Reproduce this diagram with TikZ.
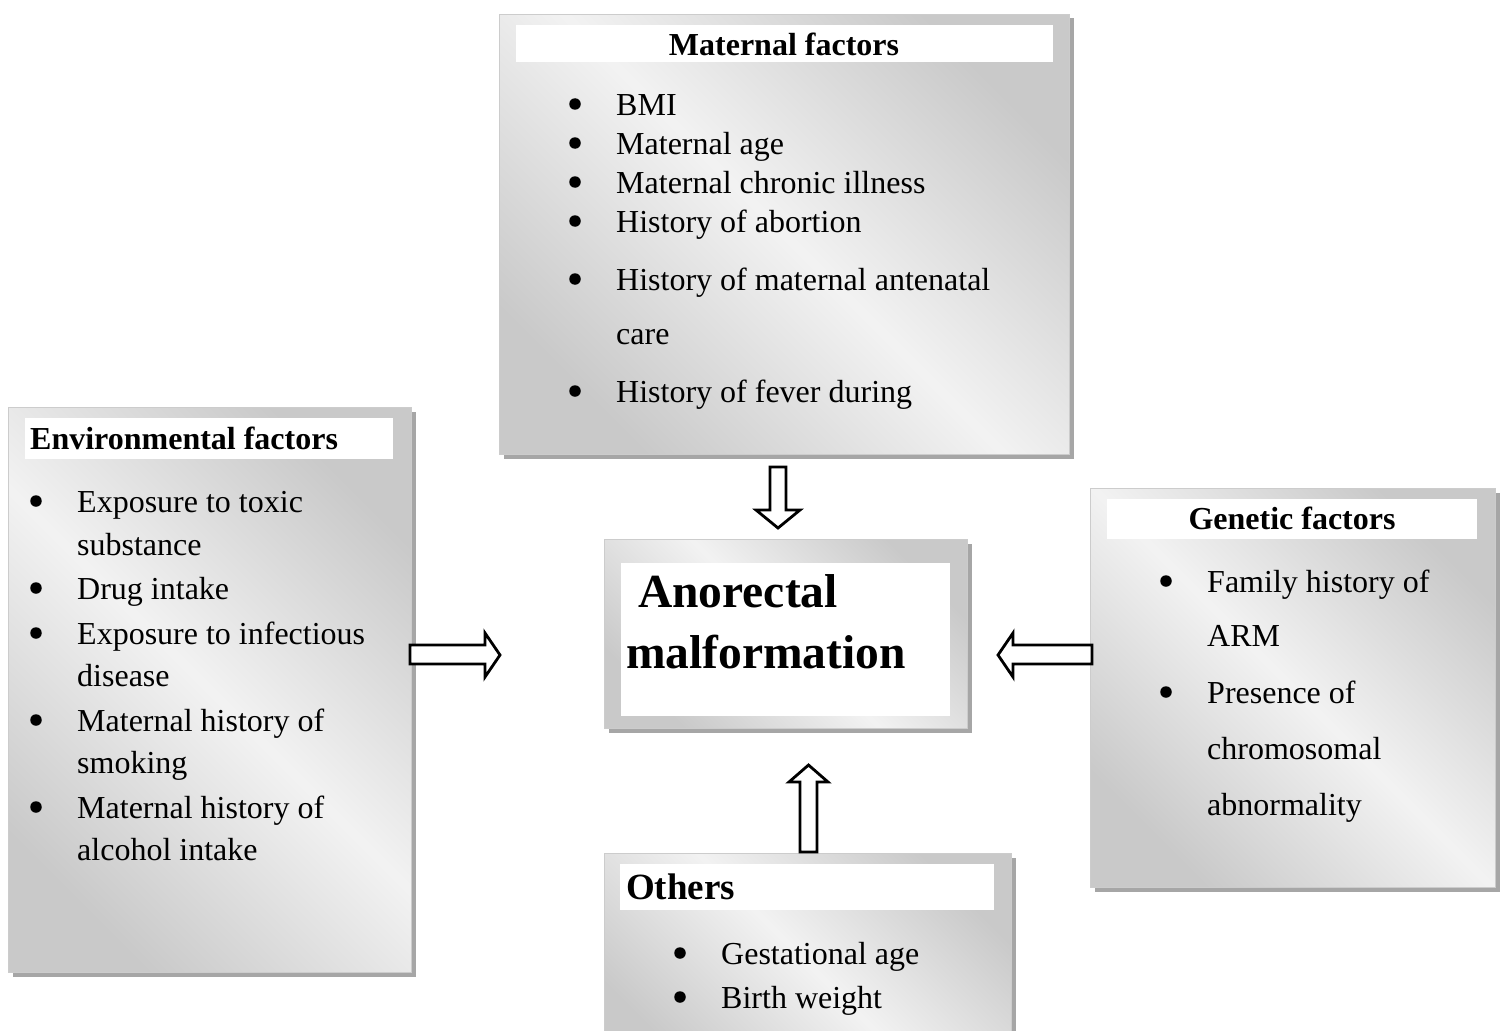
\documentclass[tikz,border=0pt]{standalone}
\usepackage{fontspec}
\setmainfont{Liberation Serif}
\usetikzlibrary{shadows}
\begin{document}
\begin{tikzpicture}[x=1pt,y=-1pt,
 panel/.style={draw=black!20, line width=1pt, top color=black!21, bottom color=black!21, middle color=black!5, shading angle=-45,
   drop shadow={shadow xshift=4pt, shadow yshift=-4pt, fill=black!35, opacity=1}, anchor=north west, inner sep=0pt},
 band/.style={fill=white, draw=none, anchor=north west, inner sep=0pt},
 txt/.style={font=\fontsize{32}{38}\selectfont, anchor=base west, inner sep=0pt},
 ttl/.style={font=\fontsize{32}{38}\selectfont\bfseries, anchor=base, inner sep=0pt},
 blt/.style={circle, fill=black, inner sep=0pt, minimum size=11.5pt},
 barrow/.style={draw=black, line width=2.8pt, fill=white, line join=miter}
]
\useasboundingbox (0,0) rectangle (1503,1030);
\fill[white] (0,0) rectangle (1503,1030);

% ---------- Maternal factors ----------
\node[panel, minimum width=570pt, minimum height=440pt] (mat) at (499,14) {};
\node[band, minimum width=537pt, minimum height=37pt] (matT) at (516,25) {};
\node[ttl] (matTt) at (784,56) {Maternal factors};
\foreach \y/\t [count=\i] in {115/BMI, 154/Maternal age, 193/Maternal chronic illness, 232/History of abortion, 290/History of maternal antenatal, 402/History of fever during}{
  \node[blt] (matb\i) at (575,\y-11) {};
  \node[txt] (mati\i) at (616,\y) {\t};
}
\node[txt] (matcare) at (616,344) {care};

% ---------- Environmental factors ----------
\node[panel, minimum width=403pt, minimum height=565pt] (env) at (8,407) {};
\node[band, minimum width=368pt, minimum height=41pt] (envT) at (25,418) {};
\node[ttl, anchor=base west] (envTt) at (30,449) {Environmental factors};
\foreach \y in {512,599,644,731,818}{
  \node[blt] (envb\y) at (36,\y-11) {};
}
\foreach \y/\t in {512/Exposure to toxic, 555/substance, 599/Drug intake, 644/Exposure to infectious, 686/disease, 731/Maternal history of, 773/smoking, 818/Maternal history of, 860/alcohol intake}{
  \node[txt] (envi\y) at (77,\y) {\t};
}

% ---------- Genetic factors ----------
\node[panel, minimum width=405pt, minimum height=399pt] (gen) at (1090,488) {};
\node[band, minimum width=370pt, minimum height=40pt] (genT) at (1107,499) {};
\node[ttl] (genTt) at (1292,529) {Genetic factors};
\node[blt] (genb1) at (1166,581) {};
\node[blt] (genb2) at (1166,692) {};
\foreach \y/\t in {592/Family history of, 646/ARM, 703/Presence of, 759/chromosomal, 815/abnormality}{
  \node[txt] (geni\y) at (1207,\y) {\t};
}

% ---------- Others ----------
\node[panel, minimum width=407pt, minimum height=220pt] (oth) at (604,853) {};
\node[band, minimum width=374pt, minimum height=46pt] (othT) at (620,864) {};
\node[ttl, anchor=base west, font=\fontsize{37}{42}\selectfont\bfseries] (othTt) at (626,899) {Others};
\node[blt] (othb1) at (680,953) {};
\node[blt] (othb2) at (680,997) {};
\node[txt] (othi1) at (721,964) {Gestational age};
\node[txt] (othi2) at (721,1008) {Birth weight};

% ---------- Centre ----------
\node[panel, minimum width=363pt, minimum height=189pt] (arm) at (604,539) {};
\node[band, minimum width=329pt, minimum height=153pt] (armW) at (621,563) {};
\node[anchor=base west, inner sep=0pt, font=\fontsize{47.5}{52}\selectfont\bfseries] (arm1) at (638,607) {Anorectal};
\node[anchor=base west, inner sep=0pt, font=\fontsize{47.5}{52}\selectfont\bfseries] (arm2) at (626,668) {malformation};

% ---------- Block arrows ----------
\draw[barrow] (770,467) -- (786,467) -- (786,510) -- (800,510) -- (778,528) -- (756,510) -- (770,510) -- cycle;
\draw[barrow] (410,645) -- (485,645) -- (485,633) -- (500,655) -- (485,677) -- (485,664) -- (410,664) -- cycle;
\draw[barrow] (1092,645) -- (1013,645) -- (1013,633) -- (998,655) -- (1013,677) -- (1013,664) -- (1092,664) -- cycle;
\draw[barrow] (800,852) -- (800,782) -- (789,782) -- (808.5,765) -- (828,782) -- (817,782) -- (817,852) -- cycle;
\end{tikzpicture}
\end{document}
